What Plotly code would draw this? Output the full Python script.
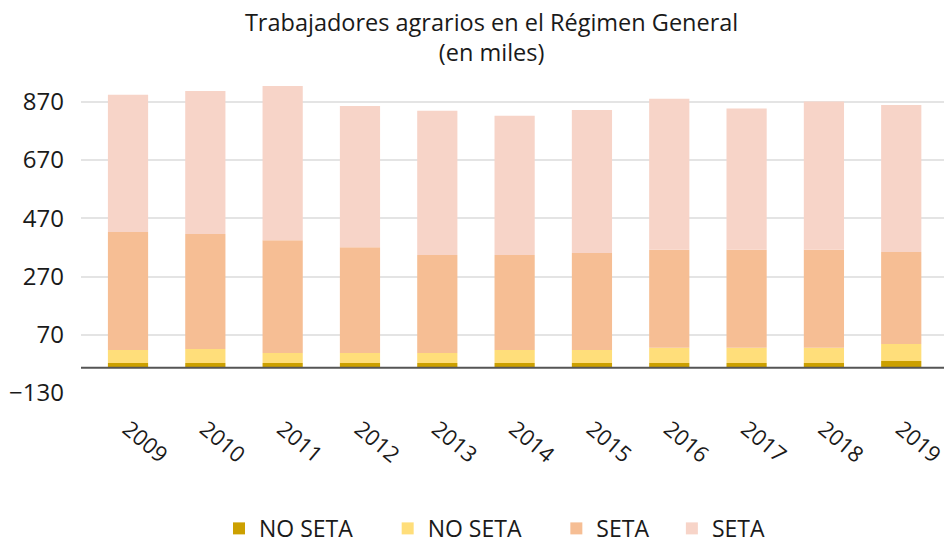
import numpy as np
import plotly.graph_objects as go

years = ["2009", "2010", "2011", "2012", "2013", "2014", "2015", "2016", "2017", "2018", "2019"]
no_seta_a = [16, 16, 16, 16, 16, 16, 16, 16, 16, 16, 23]
no_seta_b = [45, 48, 34, 34, 34, 45, 45, 52, 52, 52, 58]
seta_a = [405, 395, 388, 364, 337, 326, 333, 337, 337, 337, 316]
seta_b = [471, 491, 529, 485, 495, 478, 491, 519, 485, 509, 505]
baseline = -43
tick_vals = [-130, 70, 270, 470, 670, 870]

NB = "\u00a0"
series = [
    ("NO SETA" + NB * 5, no_seta_a, "#CCA000"),
    ("NO SETA" + NB * 5, no_seta_b, "#FFDE7A"),
    ("SETA" + NB * 3, seta_a, "#F6BE94"),
    ("SETA", seta_b, "#F7D4C8"),
]

FONT = "Open Sans"
fig = go.Figure()
base = np.full(len(years), float(baseline))
for name, vals, color in series:
    v = np.array(vals, dtype=float)
    fig.add_trace(go.Bar(
        x=years, y=v, base=base.copy(), name=name,
        marker=dict(color=color, line=dict(width=0)),
        width=0.52, hoverinfo="skip",
    ))
    base = base + v

fig.add_shape(type="line", xref="paper", x0=0, x1=1, yref="y", y0=baseline, y1=baseline,
              line=dict(color="#555555", width=2), layer="above")

fig.update_layout(
    barmode="overlay",
    width=952, height=543,
    paper_bgcolor="white", plot_bgcolor="white",
    margin=dict(l=73, r=0, t=72, b=158, autoexpand=False),
    font=dict(family=FONT, color="#1a1a1a", size=22),
    title=dict(text="Trabajadores agrarios en el Régimen General<br>(en miles)",
               x=0.508, xanchor="center", y=0.958, yanchor="top",
               font=dict(family=FONT, size=23.5, color="#1a1a1a")),
    xaxis=dict(type="category", range=[-0.608, 10.76], tickangle=40,
               showgrid=False, zeroline=False, showline=False, ticks="",
               tickfont=dict(size=22), ticklabelstandoff=18, automargin=False),
    yaxis=dict(range=[-130, 945], tickvals=tick_vals, showgrid=True,
               gridcolor="#E4E4E4", gridwidth=2, zeroline=False, showline=False,
               tickfont=dict(size=24), ticklabelstandoff=16, automargin=False),
    legend=dict(orientation="h", x=0.157, xanchor="left", y=-0.364, yanchor="top",
                traceorder="normal", font=dict(size=23)),
    showlegend=True,
)

fig.write_html("out.html")
